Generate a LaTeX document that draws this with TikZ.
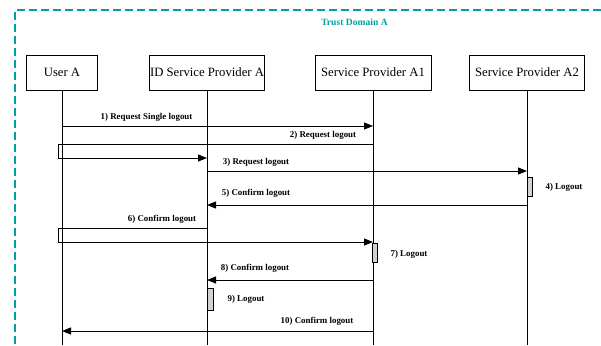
\documentclass[tikz,border=0pt]{standalone}
\usepackage{fontspec}
\setmainfont{Liberation Serif}
\usetikzlibrary{arrows.meta,calc}
\definecolor{teal1}{RGB}{0,160,160}
\definecolor{actgray}{RGB}{210,210,210}
\tikzset{
  actorbox/.style={draw=black, line width=0.8pt, fill=white, minimum height=35pt, inner sep=0pt, font=\fontsize{12.7}{14}\selectfont},
  lifeline/.style={line width=0.8pt},
  msgarrow/.style={line width=0.9pt, -{Triangle[length=9pt,width=7pt]}},
  msglbl/.style={font=\bfseries\fontsize{8.9}{10}\selectfont, inner sep=0pt},
  actbox/.style={draw=black, line width=0.7pt, fill=actgray},
  tdborder/.style={draw=teal1, line width=1.4pt, dash pattern=on 8pt off 4pt},
}
\begin{document}
\begin{tikzpicture}[x=1pt,y=-1pt]
\useasboundingbox (0,0) rectangle (601,345);
% trust domain
\draw[tdborder] (601,10) -- (15,10) -- (15,345);
\node[font=\bfseries\fontsize{9.6}{11}\selectfont, text=teal1, inner sep=0pt] (td) at (354.5,22) {Trust Domain A};
% actors
\node[actorbox, minimum width=71pt] (ua) at (62,72.5) {User A};
\node[actorbox, minimum width=115pt] (idp) at (207,72.5) {ID Service Provider A};
\node[actorbox, minimum width=116pt] (a1) at (373,72.5) {Service Provider A1};
\node[actorbox, minimum width=115pt] (a2) at (527,72.5) {Service Provider A2};
% lifeline ends
\coordinate (uaE) at (62,345);
\coordinate (idpE) at (207,345);
\coordinate (a1E) at (373,345);
\coordinate (a2E) at (527,345);
\draw[lifeline] (ua.south) -- (uaE);
\draw[lifeline] (idp.south) -- (idpE);
\draw[lifeline] (a1.south) -- (a1E);
\draw[lifeline] (a2.south) -- (a2E);
% 1
\draw[msgarrow] (ua.south |- 0,126) -- (a1.south |- 0,126);
\node[msglbl] (l1) at (146.5,117) {1) Request Single logout};
% 2
\coordinate (r2a) at (58,144);
\coordinate (r2b) at (58,158);
\draw[msgarrow] (a1.south |- 0,144) -- (r2a) -- (r2b) -- (idp.south |- 0,158);
\node[msglbl] (l2) at (323,135) {2) Request logout};
% 3
\draw[msgarrow] (idp.south |- 0,171) -- (a2.south |- 0,171);
\node[msglbl] (l3) at (256,162) {3) Request logout};
% 4
\draw[actbox] (527,177) rectangle (532,196);
\node[msglbl] (l4) at (564,187) {4) Logout};
% 5
\draw[msgarrow] (a2.south |- 0,205) -- (idp.south |- 0,205);
\node[msglbl] (l5) at (256,193) {5) Confirm logout};
% 6
\coordinate (r6a) at (58,228);
\coordinate (r6b) at (58,242);
\draw[msgarrow] (idp.south |- 0,228) -- (r6a) -- (r6b) -- (a1.south |- 0,242);
\node[msglbl] (l6) at (162,219) {6) Confirm logout};
% 7
\draw[actbox] (372.5,243) rectangle (377.5,262);
\node[msglbl] (l7) at (409,254) {7) Logout};
% 8
\draw[msgarrow] (a1.south |- 0,280) -- (idp.south |- 0,280);
\node[msglbl] (l8) at (255,268) {8) Confirm logout};
% 9
\draw[actbox] (207,288) rectangle (213,310);
\node[msglbl] (l9) at (246,299) {9) Logout};
% 10
\draw[msgarrow] (a1.south |- 0,331) -- (ua.south |- 0,331);
\node[msglbl] (l10) at (317,321) {10) Confirm logout};
\end{tikzpicture}
\end{document}
